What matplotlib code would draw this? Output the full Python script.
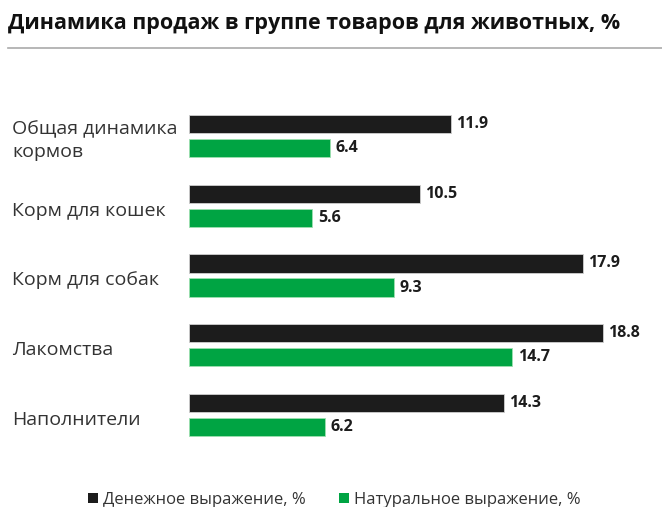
import matplotlib
matplotlib.use("Agg")
import matplotlib.pyplot as plt
from matplotlib.patches import Patch
from matplotlib.lines import Line2D
from matplotlib.transforms import blended_transform_factory

plt.rcParams["font.family"] = ["Open Sans", "DejaVu Sans"]

TITLE = "Динамика продаж в группе товаров для животных, %"
CATEGORIES = ["Общая динамика\nкормов", "Корм для кошек", "Корм для собак",
              "Лакомства", "Наполнители"]
MONEY = [11.9, 10.5, 17.9, 18.8, 14.3]
UNITS = [6.4, 5.6, 9.3, 14.7, 6.2]
SERIES = ["Денежное выражение, %", "Натуральное выражение, %"]

BLACK = "#1c1c1c"
GREEN = "#00a443"
TEXT = "#333333"

W, H = 662, 507
fig = plt.figure(figsize=(W / 100, H / 100), dpi=100)

# axes placed in pixel coords
left, right, top, bottom = 189, 640, 101, 450
ax = fig.add_axes([left / W, 1 - bottom / H, (right - left) / W, (bottom - top) / H])
ax.set_xlim(0, (right - left) / 22.0)
ax.set_ylim(len(CATEGORIES) - 0.5, -0.5)
ax.axis("off")

bh = 0.26
off = 0.172
ys = list(range(len(CATEGORIES)))
ax.barh([y - off for y in ys], MONEY, height=bh, color=BLACK, edgecolor="#cfcfcf", linewidth=0.6)
ax.barh([y + off for y in ys], UNITS, height=bh, color=GREEN, edgecolor="#9ee0b0", linewidth=0.6)

for y, v in zip(ys, MONEY):
    ax.text(v + 0.25, y - off, f"{v:.1f}", va="center", ha="left",
            fontsize=11.5, fontweight="bold", color=BLACK)
for y, v in zip(ys, UNITS):
    ax.text(v + 0.25, y + off, f"{v:.1f}", va="center", ha="left",
            fontsize=11.5, fontweight="bold", color=BLACK)

# category labels at left edge of figure
tr = blended_transform_factory(fig.transFigure, ax.transData)
for y, name in zip(ys, CATEGORIES):
    ax.text(12 / W, y + 0.07, name, transform=tr, va="center", ha="left",
            fontsize=14, color=TEXT, linespacing=1.3)

# title and separator
fig.text(8 / W, 1 - 23 / H, TITLE, fontsize=15.5, fontweight="bold", color="#111111",
         va="center", ha="left")
fig.add_artist(Line2D([8 / W, 1.0], [1 - 48 / H, 1 - 48 / H],
                      transform=fig.transFigure, color="#aaaaaa", linewidth=1.2))

handles = [Patch(facecolor=BLACK), Patch(facecolor=GREEN)]
fig.legend(handles, SERIES, loc="center", bbox_to_anchor=(334 / W, 1 - 500 / H),
           ncol=2, frameon=False, fontsize=12, handlelength=0.6, handleheight=0.6,
           handletextpad=0.3, columnspacing=2.0, labelcolor=TEXT)

fig.savefig("out.png", dpi=100)
